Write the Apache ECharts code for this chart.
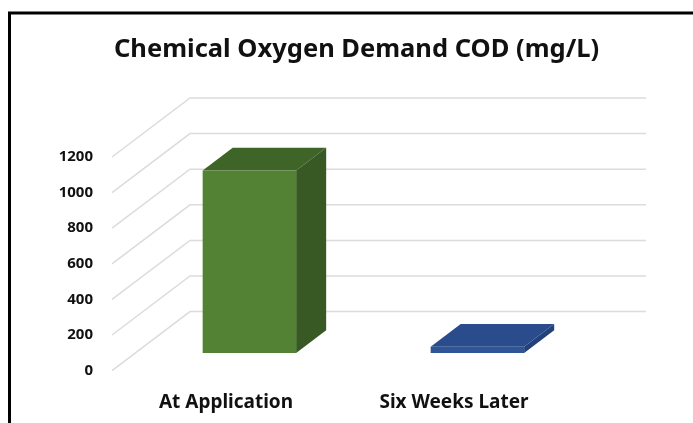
<!DOCTYPE html>
<html>
<head>
<meta charset="utf-8">
<script src="https://cdn.jsdelivr.net/npm/echarts@6/dist/echarts.min.js"></script>
<style>
  html, body { margin: 0; padding: 0; background: #fff; }
  #chart { width: 693px; height: 423px; }
</style>
</head>
<body>
<div id="chart"></div>
<script>
const categories = ["At Application", "Six Weeks Later"];
const codValues = [1025, 35];
const yTicks = [0, 200, 400, 600, 800, 1000, 1200];

// front faces / top faces / side faces
const frontColors = ["#548235", "#2f5597"];
const topColors = ["#3e6427", "#2a4c8c"];
const sideColors = ["#385923", "#22407a"];

// oblique depth of the floor (front -> back wall)
const DX = 78;
const DY = -59;
const D0 = 0.3;
const D1 = 0.685;

const chart = echarts.init(document.getElementById("chart"));

function renderGrid(params, api) {
  const cs = params.coordSys;
  const y = api.coord([0, api.value(1)])[1];
  return {
    type: "polyline",
    silent: true,
    shape: {
      points: [
        [cs.x, y],
        [cs.x + DX, y + DY],
        [cs.x + cs.width + DX, y + DY]
      ]
    },
    style: { stroke: "#dcdcdc", lineWidth: 1.5, fill: null }
  };
}

function renderBar(params, api) {
  const i = api.value(0);
  const base = api.coord([i, 0]);
  const top = api.coord([i, api.value(1)]);
  const bw = api.size([1, 0])[0] * 0.41;
  const x0 = base[0] - bw / 2 + D0 * DX;
  const x1 = x0 + bw;
  const yb = base[1] + D0 * DY;
  const yt = top[1] + D0 * DY;
  const ddx = (D1 - D0) * DX;
  const ddy = (D1 - D0) * DY;
  return {
    type: "group",
    children: [
      {
        type: "polygon",
        shape: { points: [[x1, yb], [x1 + ddx, yb + ddy], [x1 + ddx, yt + ddy], [x1, yt]] },
        style: { fill: sideColors[i] }
      },
      {
        type: "polygon",
        shape: { points: [[x0, yt], [x1, yt], [x1 + ddx, yt + ddy], [x0 + ddx, yt + ddy]] },
        style: { fill: topColors[i] }
      },
      {
        type: "rect",
        shape: { x: x0, y: yt, width: bw, height: yb - yt },
        style: { fill: frontColors[i] }
      }
    ]
  };
}

const option = {
  backgroundColor: "#fff",
  title: {
    text: "Chemical Oxygen Demand COD (mg/L)",
    left: 114,
    top: 37,
    padding: 0,
    textStyle: {
      fontFamily: "Noto Sans",
      fontWeight: "bold",
      fontSize: 25.5,
      color: "#111"
    }
  },
  graphic: [
    {
      type: "rect",
      shape: { x: 9.5, y: 13, width: 720, height: 440 },
      style: { fill: null, stroke: "#000", lineWidth: 3 },
      silent: true
    }
  ],
  grid: { left: 112, right: 125, top: 157, bottom: 52.4 },
  xAxis: {
    type: "category",
    data: categories,
    axisLine: { show: false },
    axisTick: { show: false },
    axisLabel: {
      margin: 22,
      color: "#111",
      fontFamily: "Noto Sans",
      fontWeight: "bold",
      fontSize: 19
    }
  },
  yAxis: {
    type: "value",
    min: 0,
    max: 1200,
    interval: 200,
    axisLine: { show: false },
    axisTick: { show: false },
    splitLine: { show: false },
    axisLabel: {
      margin: 19,
      color: "#111",
      fontFamily: "Noto Sans",
      fontWeight: "bold",
      fontSize: 15,
      formatter: v => String(v)
    }
  },
  series: [
    {
      type: "custom",
      name: "grid",
      silent: true,
      clip: false,
      z: 1,
      encode: { x: 0, y: 1 },
      data: yTicks.map(v => [0, v]),
      renderItem: renderGrid
    },
    {
      type: "custom",
      name: "COD",
      clip: false,
      z: 2,
      encode: { x: 0, y: 1 },
      data: codValues.map((v, i) => [i, v]),
      renderItem: renderBar
    }
  ]
};

chart.setOption(option);
window.addEventListener("resize", () => chart.resize());
</script>
</body>
</html>
